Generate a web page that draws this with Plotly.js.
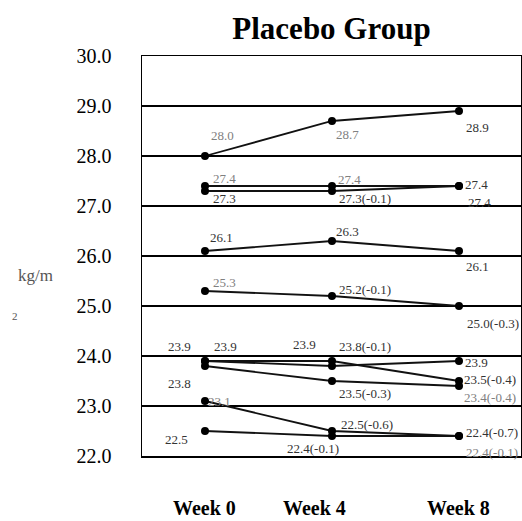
<!DOCTYPE html>
<html>
<head>
<meta charset="utf-8">
<script src="https://cdn.plot.ly/plotly-3.0.1.min.js"></script>
<style>html,body{margin:0;padding:0;background:#fff;}#chart{width:522px;height:521px;}</style>
</head>
<body>
<div id="chart"></div>
<script>
// ---- data ----
const weeks = [0, 4, 8];
const weekLabels = ['Week 0', 'Week 4', 'Week 8'];
const yTicks = [22, 23, 24, 25, 26, 27, 28, 29, 30];

const s1 = [28.0, 28.7, 28.9];
const s2 = [27.4, 27.4, 27.4];
const s3 = [27.3, 27.3, 27.4];
const s4 = [26.1, 26.3, 26.1];
const s5 = [25.3, 25.2, 25.0];
const s6 = [23.9, 23.9, 23.5];
const s7 = [23.9, 23.8, 23.9];
const s8 = [23.8, 23.5, 23.4];
const s9 = [23.1, 22.5, 22.4];
const s10 = [22.5, 22.4, 22.4];

const l1 = ['28.0', '28.7', '28.9'];
const l2 = ['27.4', '27.4', '27.4'];
const l3 = ['27.3', '27.3(-0.1)', '27.4'];
const l4 = ['26.1', '26.3', '26.1'];
const l5 = ['25.3', '25.2(-0.1)', '25.0(-0.3)'];
const l6 = ['23.9', '23.9', '23.5(-0.4)'];
const l7 = ['23.9', '23.8(-0.1)', '23.9'];
const l8 = ['23.8', '23.5(-0.3)', '23.4(-0.4)'];
const l9 = ['23.1', '22.5(-0.6)', '22.4(-0.7)'];
const l10 = ['22.5', '22.4(-0.1)', '22.4(-0.1)'];

const series = [s1, s2, s3, s4, s5, s6, s7, s8, s9, s10];
const labels = [l1, l2, l3, l4, l5, l6, l7, l8, l9, l10];

const SERIF = "'Liberation Serif', 'Times New Roman', 'DejaVu Serif', serif";

// ---- label placement (pixel offsets from each point: [dx, dy-down], gray flag) ----
const labelStyle = [
  [[18,-21,1],[16,13,1],[19,16,0]],
  [[20,-8,1],[18,-7,1],[18,-2,0]],
  [[20,7,0],[33,7,0],[21,16,0]],
  [[17,-14,0],[16,-10,0],[19,15,0]],
  [[20,-9,1],[33,-7,0],[34,17,0]],
  [[21,-15,0],[-27,-17,0],[31,-2,0]],
  [[-25,-15,0],[33,-20,0],[18,1,0]],
  [[-25,17,0],[33,12,0],[31,11,1]],
  [[15,0,1],[35,-7,0],[33,-4,0]],
  [[-28,8,0],[-19,12,0],[33,16,1]]
];

const traces = series.map(s => ({
  x: weeks, y: s, type: 'scatter', mode: 'lines+markers',
  line: {color: '#111', width: 1.8},
  marker: {color: '#000', size: 8},
  showlegend: false, hoverinfo: 'skip'
}));

const annotations = [];
series.forEach((s, i) => {
  s.forEach((v, j) => {
    const st = labelStyle[i][j];
    annotations.push({
      x: weeks[j], y: v, xref: 'x', yref: 'y',
      text: labels[i][j], showarrow: false,
      xshift: st[0], yshift: -st[1],
      xanchor: 'center', yanchor: 'middle',
      font: {family: SERIF, size: 13, color: st[2] ? '#808080' : '#333'}
    });
  });
});
const weekShift = [0, -17, 0];
weekLabels.forEach((t, j) => {
  annotations.push({
    x: weeks[j], y: 0, xref: 'x', yref: 'paper', text: '<b>' + t + '</b>',
    showarrow: false, xshift: weekShift[j], yshift: -52, yanchor: 'middle',
    font: {family: SERIF, size: 20, color: '#000'}
  });
});
annotations.push({
  x: -0.28, y: 0.4525, xref: 'paper', yref: 'paper', text: 'kg/m', showarrow: false,
  xanchor: 'center', yanchor: 'middle',
  font: {family: SERIF, size: 17, color: '#555'}
});
annotations.push({
  x: -0.335, y: 0.35, xref: 'paper', yref: 'paper', text: '2', showarrow: false,
  xanchor: 'center', yanchor: 'middle',
  font: {family: SERIF, size: 11, color: '#555'}
});

const layout = {
  width: 522, height: 521,
  margin: {l: 142, r: 1, t: 56, b: 65},
  paper_bgcolor: '#fff', plot_bgcolor: '#fff',
  font: {family: SERIF},
  title: {
    text: '<b>Placebo Group</b>', x: 0.5, xref: 'paper', xanchor: 'center',
    y: 1 - 28/521, yref: 'container', yanchor: 'middle',
    font: {family: SERIF, size: 31, color: '#000'}
  },
  xaxis: {
    range: [-1.984, 9.953], showgrid: false, zeroline: false,
    showticklabels: false, ticks: '',
    showline: true, mirror: true, linecolor: '#000', linewidth: 1.5
  },
  yaxis: {
    range: [22, 30], tickvals: yTicks, tickformat: '.1f',
    showgrid: true, gridcolor: '#000', gridwidth: 1.5, zeroline: false,
    showline: true, mirror: true, linecolor: '#000', linewidth: 1.5,
    ticks: '', ticklabelstandoff: 25,
    tickfont: {family: SERIF, size: 20, color: '#000'}
  },
  annotations: annotations
};

Plotly.newPlot('chart', traces, layout, {displayModeBar: false, staticPlot: true});
</script>
</body>
</html>
